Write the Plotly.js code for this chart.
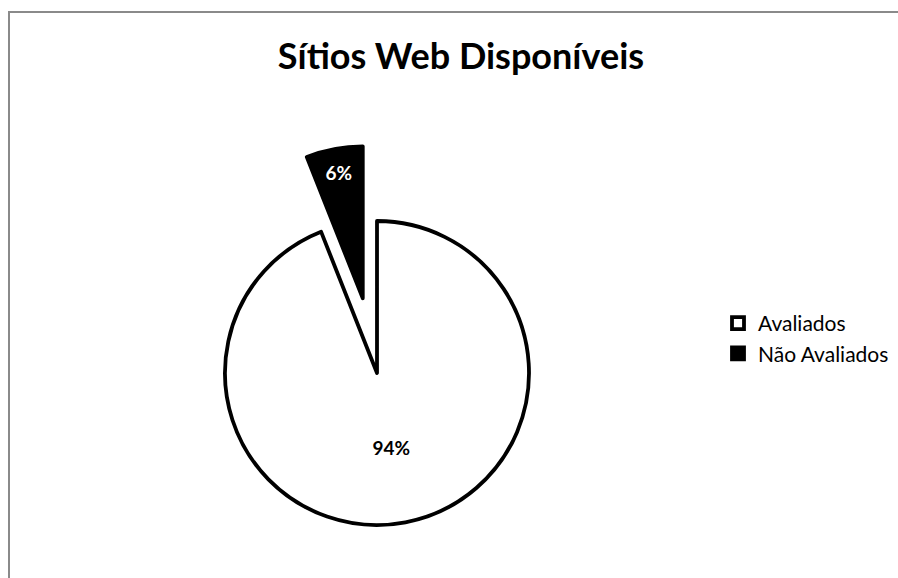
<!DOCTYPE html>
<html>
<head>
<meta charset="utf-8">
<script src="https://cdn.plot.ly/plotly-3.0.1.min.js"></script>
<style>
html,body{margin:0;padding:0;background:#fff;overflow:hidden;}
#wrap{position:relative;width:898px;height:578px;overflow:hidden;}
#chart{position:absolute;left:0;top:0;width:898px;height:610px;}
#frame{position:absolute;left:8px;top:11px;right:-10px;bottom:-10px;border-left:2px solid #8a8a8a;border-top:2px solid #8a8a8a;pointer-events:none;}
</style>
</head>
<body>
<div id="wrap"><div id="chart"></div><div id="frame"></div></div>
<script>
var categories = ['Avaliados', 'Não Avaliados'];
var values = [94, 6];
var sliceColors = ['#ffffff', '#000000'];
var textColors = ['#000000', '#ffffff'];
var pulls = [0, 0.5];
var chartTitle = 'Sítios Web Disponíveis';

var trace = {
  type: 'pie',
  labels: categories,
  values: values,
  sort: false,
  direction: 'clockwise',
  rotation: 0,
  pull: pulls,
  marker: {colors: sliceColors, line: {color: '#000000', width: 3.8}},
  textinfo: 'percent',
  textposition: 'inside',
  insidetextorientation: 'horizontal',
  textfont: {family: 'Lato', size: 19, color: textColors, weight: 'bold'},
  hoverinfo: 'label+percent'
};

var layout = {
  width: 898,
  height: 610,
  margin: {l: 137, r: 281, t: 145, b: 9},
  paper_bgcolor: '#ffffff',
  plot_bgcolor: '#ffffff',
  font: {family: 'Lato', color: '#000000'},
  title: {
    text: '<b>' + chartTitle + '</b>',
    font: {family: 'Lato', size: 36, color: '#000000'},
    xref: 'container', yref: 'container',
    x: 461 / 898, xanchor: 'center',
    y: 1 - 56 / 610, yanchor: 'middle'
  },
  showlegend: true,
  legend: {
    xref: 'container', yref: 'container',
    x: 718 / 898, xanchor: 'left',
    y: 1 - 303 / 610, yanchor: 'top',
    font: {family: 'Lato', size: 21, color: '#000000'},
    bgcolor: 'rgba(0,0,0,0)'
  }
};

Plotly.newPlot('chart', [trace], layout, {displayModeBar: false, staticPlot: true});
</script>
</body>
</html>
